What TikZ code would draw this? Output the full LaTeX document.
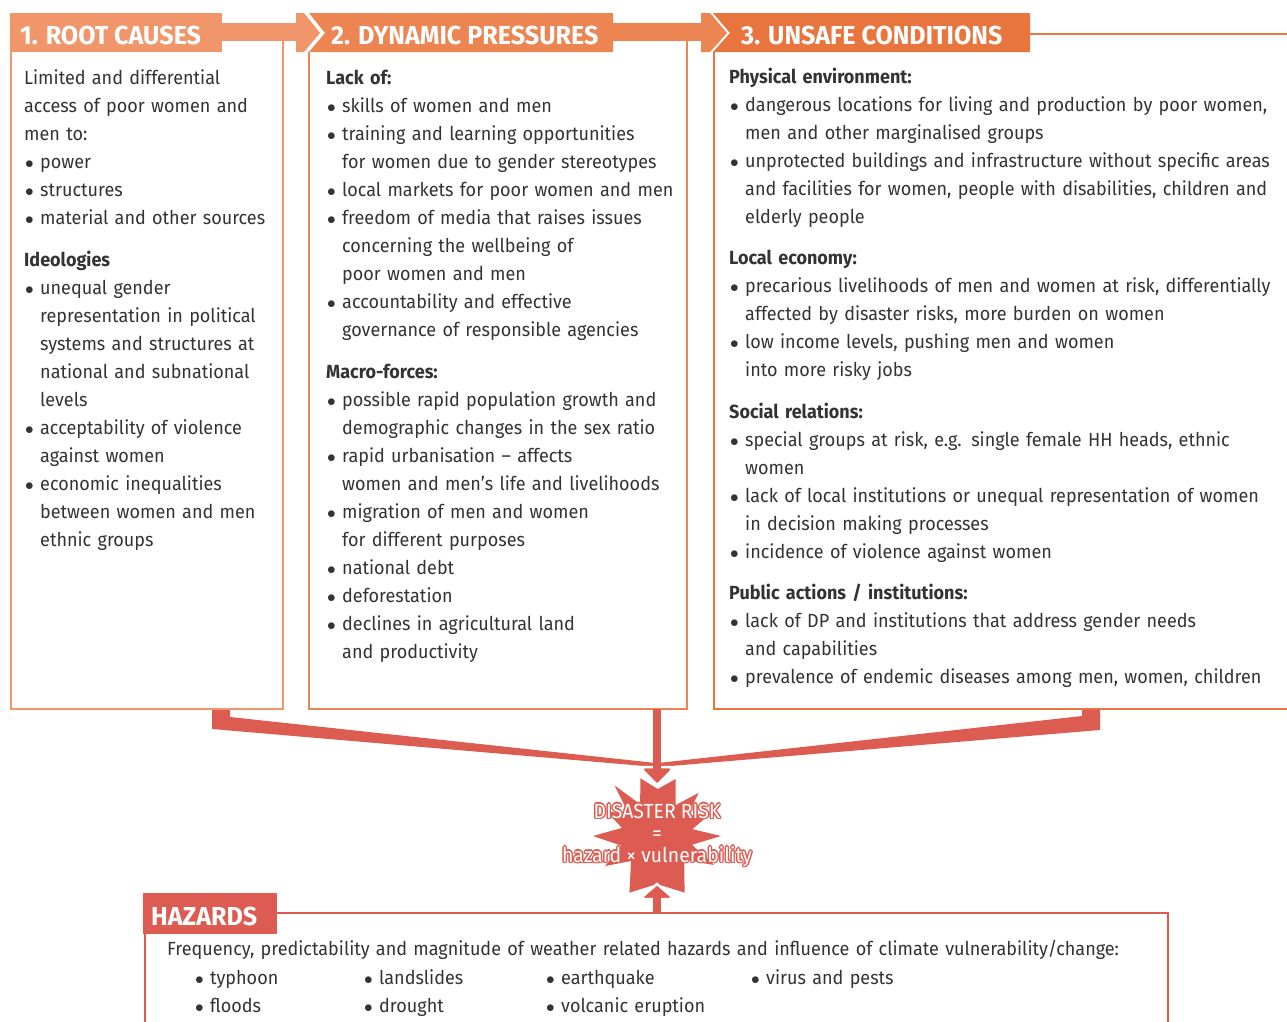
\documentclass[tikz,border=0pt]{standalone}
\usepackage{fontspec}
\setmainfont{Fira Sans}[FakeStretch=0.948]
\newfontfamily\hdfont{Fira Sans}[FakeStretch=0.965]
\definecolor{cA}{HTML}{F0966A}
\definecolor{cB}{HTML}{EC8552}
\definecolor{cC}{HTML}{E8743E}
\definecolor{hred}{HTML}{DC5C52}
\definecolor{txt}{HTML}{333333}
\newcommand\bul{\makebox[16pt][l]{\kern1pt$\bullet$}}
\newcommand\ind{\hspace*{16pt}}
\newcommand\halo[1]{\setbox0=\hbox{#1}%
 \rlap{\color{hred}\kern1.4pt\copy0}%
 \rlap{\color{hred}\kern-1.4pt\copy0}%
 \rlap{\color{hred}\raise1.4pt\copy0}%
 \rlap{\color{hred}\lower1.4pt\copy0}%
 \rlap{\color{hred}\kern1pt\raise1pt\copy0}%
 \rlap{\color{hred}\kern-1pt\raise1pt\copy0}%
 \rlap{\color{hred}\kern1pt\lower1pt\copy0}%
 \rlap{\color{hred}\kern-1pt\lower1pt\copy0}%
 \box0}
\begin{document}
\begin{tikzpicture}[x=1pt,y=-1pt,
  body/.style={anchor=base west, inner sep=0pt, text=txt,
    font=\fontsize{19}{28}\selectfont, text width=1100pt, align=left},
  head/.style={anchor=base west, inner sep=0pt, text=white,
    font=\hdfont\bfseries\fontsize{26}{28}\selectfont},
  frame/.style={line width=2pt},
  redfill/.style={fill=hred}]
\useasboundingbox (0,0) rectangle (1287,1021);

% ---------- header bar ----------
\fill[cA] (10,13) rectangle (222,52);
\fill[cA] (222,23) rectangle (297,41);
\fill[cA] (296,13) -- (304,13) -- (320,33) -- (304,52) -- (296,52) -- cycle;
\fill[cB] (309,13) -- (613,13) -- (613,52) -- (309,52) -- (325,33) -- cycle;
\fill[cB] (613,23) rectangle (702,41);
\fill[cB] (701,13) -- (710,13) -- (727,33) -- (710,52) -- (701,52) -- cycle;
\fill[cC] (713,13) -- (1030,13) -- (1030,52) -- (713,52) -- (730,33) -- cycle;

\node[head] (h1) at (20,44) {1. ROOT CAUSES};
\node[head] (h2) at (331,44) {2. DYNAMIC PRESSURES};
\node[head] (h3) at (741,44) {3. UNSAFE CONDITIONS};

% ---------- funnel arrows ----------
\fill[redfill] (212,709) -- (230,709) -- (230,717) -- (656,763) -- (656,767) -- (212,729) -- cycle;
\fill[redfill] (1100,709) -- (1082,709) -- (1082,716) -- (658,763) -- (658,767) -- (1100,730) -- cycle;

% ---------- box frames ----------
\draw[frame, cA] (11,52) -- (11,709) -- (283,709) -- (283,41);
\draw[frame, cB] (309,52) -- (309,709) -- (687,709) -- (687,41);
\draw[frame, cC] (714,52) -- (714,709) -- (1290,709);
\draw[frame, cC] (1030,34) -- (1290,34);

% ---------- starburst ----------
\fill[hred, shift={(657,836)}]
  (-106:60) -- (-89:47) -- (-72:60) -- (-59:36) -- (-46:60) -- (-34:37)
  -- (-22:56) -- (-11:36) -- (0:64) -- (14:36) -- (27:64) -- (41:36)
  -- (64:63) -- (90:48) -- (116:63) -- (136:36) -- (150:60) -- (165:37)
  -- (180:64) -- (193:36) -- (206:56) -- (218:36) -- (230:66) -- (242:36) -- cycle;

% down arrow into star
\fill[hred, draw=white, line width=2.5pt, line join=miter]
  (643,767) -- (671,767) -- (671,771) -- (657,785) -- (643,771) -- cycle;
\fill[hred] (653,709) rectangle (661,769);
% up arrow from hazards
\fill[hred, draw=white, line width=2.5pt, line join=miter]
  (643,899) -- (671,899) -- (671,896) -- (657,884) -- (643,896) -- cycle;
\fill[hred] (653,897) rectangle (661,913);

\node[inner sep=0pt, text=white, align=center,
      font=\fontsize{20.5}{22}\selectfont] (risk) at (657,835)
  {\halo{DISASTER RISK}\\\halo{=}\\\halo{hazard × vulnerability}};

% ---------- hazards ----------
\draw[frame, hred] (145,933) -- (145,1025);
\draw[frame, hred] (277,913) -- (1168,913) -- (1168,1025);
\fill[hred] (143,893) rectangle (277,934);
\node[head] (h4) at (151,925) {HAZARDS};

\node[body] (hz0) at (167,955) {Frequency, predictability and magnitude of weather related hazards and influence of climate vulnerability/change:};
\node[body, text width=160pt] (hz1) at (194,984) {\bul typhoon\\\bul floods};
\node[body, text width=160pt] (hz2) at (363,984) {\bul landslides\\\bul drought};
\node[body, text width=200pt] (hz3) at (545,984) {\bul earthquake\\\bul volcanic eruption};
\node[body, text width=200pt] (hz4) at (750,984) {\bul virus and pests};

% ---------- column texts ----------
\node[body] (t1) at (24,84) {Limited and differential\\
access of poor women and\\
men to:\\
\bul power\\
\bul structures\\
\bul material and other sources\\[14pt]
\textbf{Ideologies}\\
\bul unequal gender\\
\ind representation in political\\
\ind systems and structures at\\
\ind national and subnational\\
\ind levels\\
\bul acceptability of violence\\
\ind against women\\
\bul economic inequalities\\
\ind between women and men\\
\ind ethnic groups};

\node[body] (t2) at (326,84) {\textbf{Lack of:}\\
\bul skills of women and men\\
\bul training and learning opportunities\\
\ind for women due to gender stereotypes\\
\bul local markets for poor women and men\\
\bul freedom of media that raises issues\\
\ind concerning the wellbeing of\\
\ind poor women and men\\
\bul accountability and effective\\
\ind governance of responsible agencies\\[14pt]
\textbf{Macro-forces:}\\
\bul possible rapid population growth and\\
\ind demographic changes in the sex ratio\\
\bul rapid urbanisation – affects\\
\ind women and men’s life and livelihoods\\
\bul migration of men and women\\
\ind for different purposes\\
\bul national debt\\
\bul deforestation\\
\bul declines in agricultural land\\
\ind and productivity};

\node[body] (t3) at (729,83) {\textbf{Physical environment:}\\
\bul dangerous locations for living and production by poor women,\\
\ind men and other marginalised groups\\
\bul unprotected buildings and infrastructure without specific areas\\
\ind and facilities for women, people with disabilities, children and\\
\ind elderly people\\[13pt]
\textbf{Local economy:}\\
\bul precarious livelihoods of men and women at risk, differentially\\
\ind affected by disaster risks, more burden on women\\
\bul low income levels, pushing men and women\\
\ind into more risky jobs\\[14pt]
\textbf{Social relations:}\\
\bul special groups at risk, e.g. single female HH heads, ethnic\\
\ind women\\
\bul lack of local institutions or unequal representation of women\\
\ind in decision making processes\\
\bul incidence of violence against women\\[13pt]
\textbf{Public actions / institutions:}\\
\bul lack of DP and institutions that address gender needs\\
\ind and capabilities\\
\bul prevalence of endemic diseases among men, women, children};
\end{tikzpicture}
\end{document}
